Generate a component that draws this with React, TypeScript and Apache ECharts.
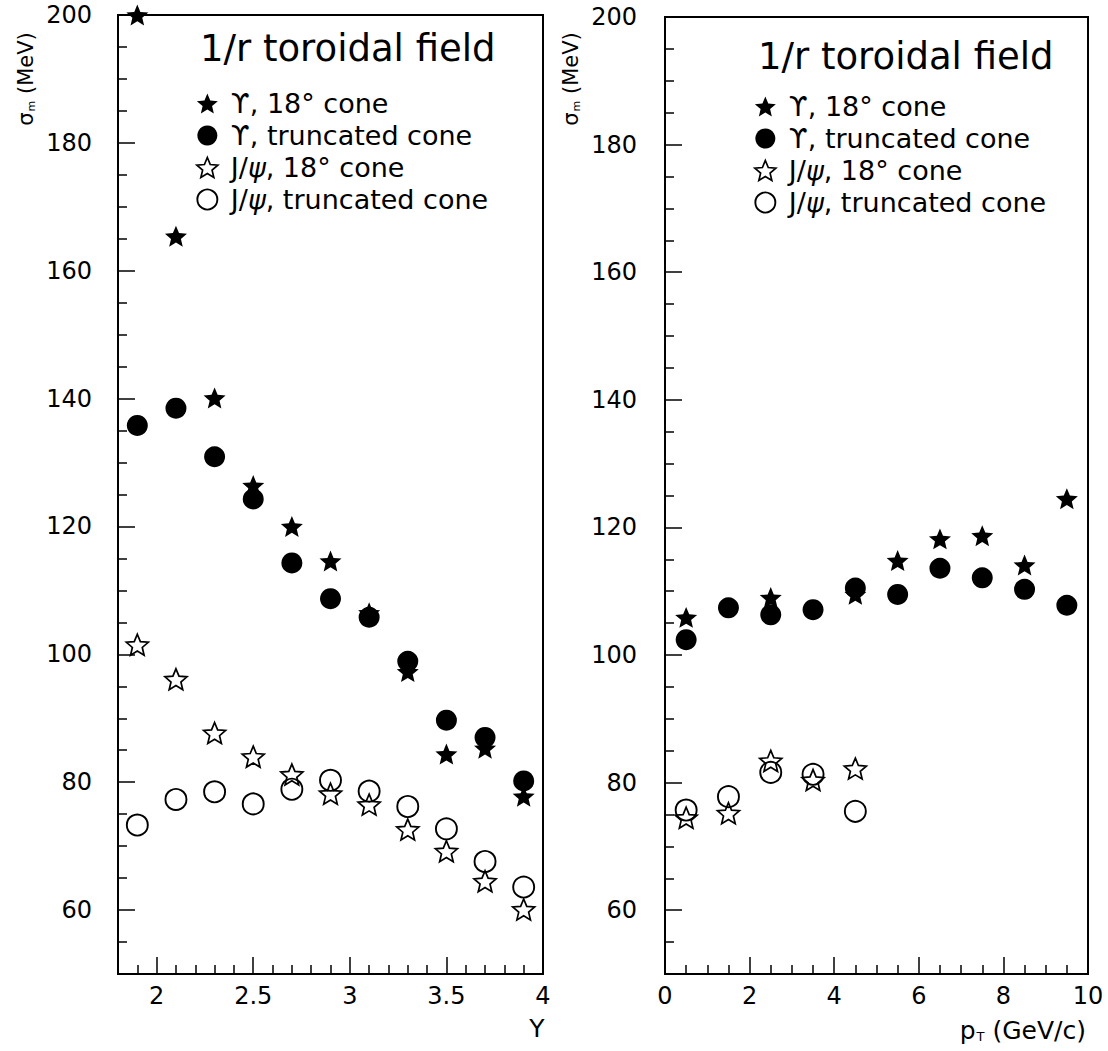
import React, { useEffect, useRef } from "react";
import * as echarts from "echarts";

// ---------- data ----------
const seriesNames = ["ϒ, 18° cone", "ϒ, truncated cone", "J/ψ, 18° cone", "J/ψ, truncated cone"];

// left panel: rapidity Y
const leftX = [1.9, 2.1, 2.3, 2.5, 2.7, 2.9, 3.1, 3.3, 3.5, 3.7, 3.9];
const leftUpsCone = [200, 165.4, 140.1, 126.4, 120.0, 114.6, 106.5, 97.3, 84.4, 85.3, 77.8];
const leftUpsTrunc = [135.8, 138.5, 130.9, 124.3, 114.3, 108.7, 105.8, 98.9, 89.7, 87.0, 80.2];
const leftPsiCone = [101.5, 96.1, 87.7, 84.0, 81.2, 78.2, 76.5, 72.6, 69.2, 64.5, 60.1];
const leftPsiTrunc = [73.3, 77.3, 78.5, 76.6, 78.9, 80.3, 78.6, 76.2, 72.7, 67.6, 63.6];

// right panel: pT
const rightUpsConeX = [0.5, 2.5, 4.5, 5.5, 6.5, 7.5, 8.5, 9.5];
const rightUpsCone = [105.9, 109.0, 109.5, 114.8, 118.2, 118.7, 114.1, 124.5];
const rightUpsTruncX = [0.5, 1.5, 2.5, 3.5, 4.5, 5.5, 6.5, 7.5, 8.5, 9.5];
const rightUpsTrunc = [102.4, 107.4, 106.3, 107.1, 110.5, 109.5, 113.6, 112.1, 110.3, 107.8];
const rightPsiX = [0.5, 1.5, 2.5, 3.5, 4.5];
const rightPsiCone = [74.5, 75.2, 83.4, 80.4, 82.2];
const rightPsiTrunc = [75.7, 77.8, 81.6, 81.3, 75.5];

// ticks
const yMajor = [60, 80, 100, 120, 140, 160, 180, 200];
const yMinor = [55, 65, 70, 75, 85, 90, 95, 105, 110, 115, 125, 130, 135, 145, 150, 155, 165, 170, 175, 185, 190, 195];
const leftXMajor = [2, 2.5, 3, 3.5, 4];
const leftXMinor = [1.9, 2.1, 2.2, 2.3, 2.4, 2.6, 2.7, 2.8, 2.9, 3.1, 3.2, 3.3, 3.4, 3.6, 3.7, 3.8, 3.9];

const FONT = "DejaVu Sans";
const STAR =
  "path://M0,-10L2.645,-3.641L9.511,-3.09L4.28,1.391L5.878,8.09L0,4.5L-5.878,8.09L-4.28,1.391L-9.511,-3.09L-2.645,-3.641Z";

const styles = [
  { symbol: STAR, size: 22, item: { color: "#000", borderColor: "#000", borderWidth: 0, opacity: 1 } },
  { symbol: "circle", size: 21, item: { color: "#000", borderColor: "#000", borderWidth: 0, opacity: 1 } },
  { symbol: STAR, size: 22, item: { color: "rgba(0,0,0,0)", borderColor: "#000", borderWidth: 1.7, opacity: 1 } },
  { symbol: "circle", size: 21, item: { color: "rgba(0,0,0,0)", borderColor: "#000", borderWidth: 1.9, opacity: 1 } },
];

const pairs = (xs: number[], ys: number[]) => xs.map((x, i) => [x, ys[i]]);

const axisTitle = (x: number, y: number, base: string, sub: string, rest: string, size: number, rotate: boolean, align: string) => ({
  type: "text",
  x,
  y,
  rotation: rotate ? Math.PI / 2 : 0,
  style: {
    text: `{a|${base}}{b|${sub}}{c|${rest}}`,
    fill: "#000",
    fontSize: size,
    fontFamily: FONT,
    align,
    verticalAlign: "middle",
    rich: {
      a: { fontSize: size, fontFamily: FONT, fill: "#000" },
      b: { fontSize: Math.round(size * 0.5), fontFamily: FONT, fill: "#000", verticalAlign: "bottom", padding: [Math.round(size * 0.45), 0, 0, 1] },
      c: { fontSize: size, fontFamily: FONT, fill: "#000" },
    },
  },
});

export default function App() {
  const ref = useRef<HTMLDivElement>(null);
  useEffect(() => {
    if (!ref.current) return;
    const chart = echarts.init(ref.current, null, { renderer: "svg" });

    const lineStyle = { color: "#000", width: 2 };
    const labelStyle = { color: "#000", fontSize: 24, fontFamily: FONT };
    const tickLine = { color: "#000", width: 1.5 };

    const xAxisMajor = (gridIndex: number, min: number, max: number, ticks: number[]) => ({
      type: "value",
      gridIndex,
      min,
      max,
      position: "bottom",
      axisLine: { show: true, onZero: false, lineStyle },
      axisTick: { show: true, inside: true, length: 17, customValues: ticks, lineStyle: tickLine },
      axisLabel: { show: true, customValues: ticks, margin: 10, formatter: (v: number) => String(v), ...labelStyle },
      splitLine: { show: false },
    });
    const xAxisMinor = (gridIndex: number, min: number, max: number, ticks: number[]) => ({
      type: "value",
      gridIndex,
      min,
      max,
      position: "bottom",
      axisLine: { show: false, onZero: false },
      axisTick: { show: true, inside: true, length: 9, customValues: ticks, lineStyle: tickLine },
      axisLabel: { show: false },
      splitLine: { show: false },
    });
    const yAxisMajor = (gridIndex: number, margin: number) => ({
      type: "value",
      gridIndex,
      min: 50,
      max: 200,
      position: "left",
      axisLine: { show: true, onZero: false, lineStyle },
      axisTick: { show: true, inside: true, length: 17, customValues: yMajor, lineStyle: tickLine },
      axisLabel: { show: true, customValues: yMajor, margin, ...labelStyle },
      splitLine: { show: false },
    });
    const yAxisMinor = (gridIndex: number) => ({
      type: "value",
      gridIndex,
      min: 50,
      max: 200,
      position: "left",
      axisLine: { show: false, onZero: false },
      axisTick: { show: true, inside: true, length: 9, customValues: yMinor, lineStyle: tickLine },
      axisLabel: { show: false },
      splitLine: { show: false },
    });

    const mkSeries = (k: number, data: number[][], xi: number, yi: number) => ({
      type: "scatter",
      name: seriesNames[k],
      xAxisIndex: xi,
      yAxisIndex: yi,
      symbol: styles[k].symbol,
      symbolSize: styles[k].size,
      symbolKeepAspect: true,
      itemStyle: styles[k].item,
      emphasis: { disabled: true },
      clip: true,
      data,
    });

    const legendData = seriesNames.map((n, k) => ({
      name: n,
      icon: styles[k].symbol,
      itemStyle: styles[k].item,
    }));
    const legendCommon = {
      orient: "vertical",
      padding: 0,
      itemWidth: 21,
      itemHeight: 20,
      itemGap: 5,
      selectedMode: false,
      data: legendData,
      formatter: (name: string) => (name.indexOf("ψ") >= 0 ? name.replace("ψ", "{i|ψ}") : name),
      textStyle: {
        color: "#000",
        fontSize: 27,
        fontFamily: FONT,
        padding: [0, 0, 0, 8],
        rich: { i: { fontStyle: "italic", fontSize: 27, fontFamily: FONT, color: "#000" } },
      },
    };

    const titleStyle = { color: "#000", fontSize: 37, fontWeight: "normal", fontFamily: FONT };

    chart.setOption({
      animation: false,
      backgroundColor: "#fff",
      title: [
        { text: "1/r toroidal field", left: 200, top: 30, padding: 0, textStyle: titleStyle },
        { text: "1/r toroidal field", left: 758, top: 38, padding: 0, textStyle: titleStyle },
      ],
      legend: [
        { ...legendCommon, left: 196, top: 90 },
        { ...legendCommon, left: 754, top: 93 },
      ],
      grid: [
        { left: 118, top: 15, width: 425, height: 959, show: true, borderColor: "#000", borderWidth: 2, backgroundColor: "transparent" },
        { left: 665, top: 17, width: 423, height: 957, show: true, borderColor: "#000", borderWidth: 2, backgroundColor: "transparent" },
      ],
      xAxis: [
        xAxisMajor(0, 1.8, 4, leftXMajor),
        xAxisMinor(0, 1.8, 4, leftXMinor),
        {
          type: "value",
          gridIndex: 1,
          min: 0,
          max: 10,
          interval: 2,
          position: "bottom",
          axisLine: { show: true, onZero: false, lineStyle },
          axisTick: { show: true, inside: true, length: 17, lineStyle: tickLine },
          minorTick: { show: true, splitNumber: 4, length: 9, lineStyle: tickLine },
          axisLabel: { show: true, margin: 10, showMinLabel: true, showMaxLabel: true, ...labelStyle },
          splitLine: { show: false },
        },
      ],
      yAxis: [yAxisMajor(0, 26), yAxisMinor(0), yAxisMajor(1, 28), yAxisMinor(1)],
      series: [
        mkSeries(0, pairs(leftX, leftUpsCone), 0, 0),
        mkSeries(1, pairs(leftX, leftUpsTrunc), 0, 0),
        mkSeries(2, pairs(leftX, leftPsiCone), 0, 0),
        mkSeries(3, pairs(leftX, leftPsiTrunc), 0, 0),
        mkSeries(0, pairs(rightUpsConeX, rightUpsCone), 2, 2),
        mkSeries(1, pairs(rightUpsTruncX, rightUpsTrunc), 2, 2),
        mkSeries(2, pairs(rightPsiX, rightPsiCone), 2, 2),
        mkSeries(3, pairs(rightPsiX, rightPsiTrunc), 2, 2),
      ],
      graphic: [
        axisTitle(26, 79, "σ", "m", " (MeV)", 21, true, "center"),
        axisTitle(571, 79, "σ", "m", " (MeV)", 21, true, "center"),
        {
          type: "text",
          x: 537,
          y: 1028,
          style: { text: "Y", fill: "#000", fontSize: 25, fontFamily: FONT, align: "center", verticalAlign: "middle" },
        },
        axisTitle(1086, 1030, "p", "T", " (GeV/c)", 25, false, "right"),
      ],
    });
    return () => chart.dispose();
  }, []);
  return (
    <div
      ref={ref}
      style={{ position: "fixed", left: 0, top: 0, width: 1108, height: 1051, background: "#fff" }}
    />
  );
}
